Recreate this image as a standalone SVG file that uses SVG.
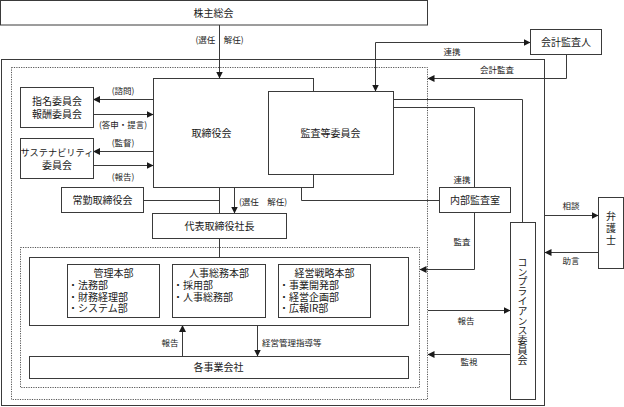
<svg xmlns="http://www.w3.org/2000/svg" width="624" height="407" viewBox="0 0 624 407">
<style>
text{font-family:"Noto Sans CJK JP","Liberation Sans",sans-serif;fill:#1a1a1a;}
.m{font-size:10px;}
.s{font-size:8.5px;}
.c{text-anchor:middle;}
.v{writing-mode:vertical-rl;text-orientation:upright;text-anchor:middle;font-size:10px;}
.b{fill:#fff;stroke:#3a3a3a;stroke-width:1;}
.d{fill:none;stroke:#555;stroke-width:1;stroke-dasharray:1.2,1.2;}
.l{fill:none;stroke:#3a3a3a;stroke-width:1;}
.a{fill:none;stroke:#3a3a3a;stroke-width:1;marker-end:url(#ah);}
</style>
<defs>
<marker id="ah" markerWidth="7" markerHeight="7" refX="6.5" refY="3.5" orient="auto" markerUnits="userSpaceOnUse">
<path d="M0,0 L7,3.5 L0,7 z" fill="#1a1a1a"/>
</marker>
<marker id="as" markerWidth="7" markerHeight="7" refX="0.5" refY="3.5" orient="auto" markerUnits="userSpaceOnUse">
<path d="M7,0 L0,3.5 L7,7 z" fill="#1a1a1a"/>
</marker>
</defs>
<rect width="624" height="407" fill="#fff"/>

<!-- frames -->
<rect class="l" x="1.5" y="59.5" width="543" height="346"/>
<rect class="d" x="11.5" y="67.5" width="416" height="332"/>
<rect class="d" x="20.5" y="247.5" width="399" height="140"/>

<g id="connectors">
<path class="a" d="M219.5,25 V78"/>
<path class="l" d="M375.5,91 V42.5 H530" marker-start="url(#as)" marker-end="url(#ah)"/>
<path class="a" d="M566.5,54 V78.5 H428"/>
<path class="l" d="M393,99.5 H522.5 V222"/>
<path class="l" d="M393,107.5 H474.5 V187"/>
<path class="l" d="M301.5,174 V200.5 H439"/>
<path class="a" d="M474.5,212 V269.5 H420"/>
<path class="a" d="M544.5,215.5 H598"/>
<path class="a" d="M598,252.5 H545"/>
<path class="a" d="M428,310.5 H510"/>
<path class="a" d="M510,354.5 H428"/>
<path class="a" d="M153,99.5 H93.5"/>
<path class="a" d="M93.5,114.5 H153"/>
<path class="a" d="M153,151.5 H93.5"/>
<path class="a" d="M93.5,165.5 H153"/>
<path class="l" d="M143.5,200.5 H219.5"/>
<path class="l" d="M219.5,187 V213"/>
<path class="a" d="M234.5,187 V213"/>
<path class="l" d="M219.5,238 V257"/>
<path class="a" d="M182.5,356 V325.5"/>
<path class="a" d="M257.5,325.5 V356"/>
<text class="s c" x="219.5" y="43">(選任　解任)</text>
<text class="s c" x="452" y="55">連携</text>
<text class="s c" x="497" y="73">会計監査</text>
<text class="s c" x="462" y="183">連携</text>
<text class="s c" x="462" y="245">監査</text>
<text class="s c" x="571" y="209">相談</text>
<text class="s c" x="571" y="264">助言</text>
<text class="s c" x="466" y="324">報告</text>
<text class="s c" x="469" y="365">監視</text>
<text class="s c" x="123" y="94">(諮問)</text>
<text class="s c" x="123" y="128">(答申・提言)</text>
<text class="s c" x="123" y="146">(監督)</text>
<text class="s c" x="123" y="180">(報告)</text>
<text class="s c" x="263" y="205">(選任　解任)</text>
<text class="s c" x="170" y="346">報告</text>
<text class="s" x="262" y="346">経営管理指導等</text>
</g>

<g id="shareholders">
<rect class="b" x="0.5" y="0.5" width="427" height="24.5"/>
<text class="m c" x="213.5" y="17">株主総会</text>
</g>

<g id="board">
<rect class="b" x="153.5" y="78.5" width="160" height="109"/>
<text class="m c" x="211.5" y="137">取締役会</text>
</g>

<g id="audit-committee">
<rect class="b" x="268.5" y="91.5" width="125" height="83"/>
<text class="m c" x="330.5" y="137">監査等委員会</text>
</g>

<g id="accounting-auditor">
<rect class="b" x="530.5" y="29.5" width="71" height="25"/>
<text class="m c" x="566" y="46">会計監査人</text>
</g>

<g id="internal-audit">
<rect class="b" x="439.5" y="187.5" width="71" height="25"/>
<text class="m c" x="475" y="204">内部監査室</text>
</g>

<g id="compliance">
<rect class="b" x="510.5" y="222.5" width="25" height="177"/>
<text class="v" x="522.5" y="311" style="letter-spacing:-0.2px">コンプライアンス委員会</text>
</g>

<g id="lawyer">
<rect class="b" x="598.5" y="197.5" width="25" height="71"/>
<text class="v" x="611" y="229" style="letter-spacing:2px">弁護士</text>
</g>

<g id="nomination">
<rect class="b" x="20.5" y="87.5" width="73" height="40"/>
<text class="m c"><tspan x="57" y="105">指名委員会</tspan><tspan x="57" y="118">報酬委員会</tspan></text>
</g>

<g id="sustainability">
<rect class="b" x="20.5" y="138.5" width="73" height="40"/>
<text class="c" style="font-size:9.2px"><tspan x="57" y="156">サステナビリティ</tspan><tspan x="57" y="169" style="font-size:10px">委員会</tspan></text>
</g>

<g id="fulltime-board">
<rect class="b" x="61.5" y="187.5" width="82" height="25"/>
<text class="m c" x="102.5" y="204">常勤取締役会</text>
</g>

<g id="president">
<rect class="b" x="152.5" y="213.5" width="134" height="25"/>
<text class="m c" x="219.5" y="230">代表取締役社長</text>
</g>

<g id="divisions">
<rect class="b" x="29.5" y="257.5" width="379" height="68"/>
</g>

<g id="admin">
<rect class="b" x="67.5" y="264.5" width="92" height="53"/>
<text class="m"><tspan x="113.5" y="277" text-anchor="middle">管理本部</tspan><tspan x="68" y="289">・法務部</tspan><tspan x="68" y="300.5">・財務経理部</tspan><tspan x="68" y="312">・システム部</tspan></text>
</g>

<g id="hr">
<rect class="b" x="172.5" y="264.5" width="93" height="53"/>
<text class="m"><tspan x="219" y="277" text-anchor="middle">人事総務本部</tspan><tspan x="173" y="289">・採用部</tspan><tspan x="173" y="300.5">・人事総務部</tspan></text>
</g>

<g id="strategy">
<rect class="b" x="278.5" y="264.5" width="92" height="53"/>
<text class="m"><tspan x="324.5" y="277" text-anchor="middle">経営戦略本部</tspan><tspan x="279" y="289">・事業開発部</tspan><tspan x="279" y="300.5">・経営企画部</tspan><tspan x="279" y="312">・広報IR部</tspan></text>
</g>

<g id="subsidiaries">
<rect class="b" x="29.5" y="356.5" width="379" height="22"/>
<text class="m c" x="218.5" y="371">各事業会社</text>
</g>
</svg>
